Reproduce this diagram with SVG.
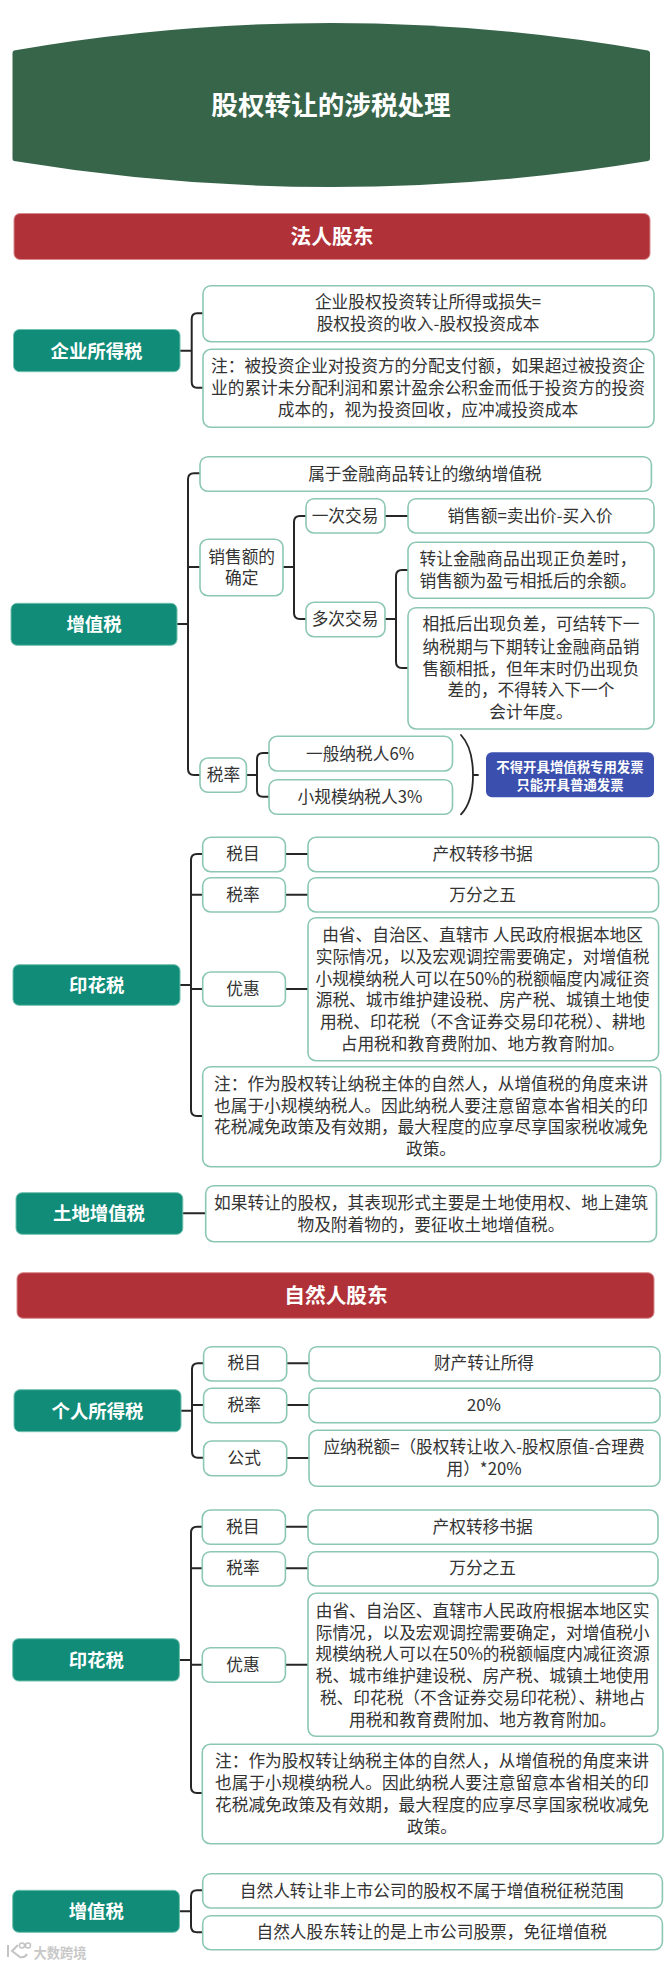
<svg xmlns="http://www.w3.org/2000/svg" width="665" height="1965" viewBox="0 0 665 1965">
<style>
text{font-family:"Noto Sans CJK SC","Noto Sans",sans-serif;text-anchor:middle}
.t{font-size:16.7px;fill:#333}
.g{fill:#108c78;stroke:#6fc0ad;stroke-width:1}
.gt{font-size:18.4px;font-weight:700;fill:#fff}
.r{fill:#b03238;stroke:#d98a8c;stroke-width:1}
.rt{font-size:20.7px;font-weight:700;fill:#fff}
.b{fill:#fff;stroke:#8cc7b2;stroke-width:1.6}
.c{fill:none;stroke:#262626;stroke-width:2;stroke-linecap:round}
.wm{fill:none;stroke:#c4c4c4;stroke-width:2}
</style>
<rect width="665" height="1965" fill="#fff"/>

<g id="title">
<path d="M14 50.5Q172 23 331 23T648 50.5Q650 51 650 53V158.500Q650 160.500 648 161Q490 187 331 187T14 161Q12.500 160.500 12.500 158.500V53Q12.500 51 14 50.500Z" fill="#37654a"/>
<text x="331" y="114.500" style="font-size:26.600px;font-weight:700;fill:#fff">股权转让的涉税处理</text>
</g>

<g id="connectors">
<path class="c" d="M180 350.700H191.700M203 313.300H197Q191.700 313.300 191.700 319V382Q191.700 387.700 197 387.700H203"/>
<path class="c" d="M177 624H188M200 473.300H194Q188 473.300 188 479.300V769Q188 775 194 775H200M188 567H200"/>
<path class="c" d="M283 567H294M306 516H300Q294 516 294 522V613Q294 619 300 619H306M385 516H408M385 619H396M408 570H402Q396 570 396 576V662Q396 668 402 668H408"/>
<path class="c" d="M246.400 775H257M269 753H263Q257 753 257 759V791Q257 796.700 263 796.700H269"/>
<path class="c" style="stroke-width:1.800" d="M461 735Q473 748 473 775T461 814.300M473 775H478"/>
<path class="c" d="M180 985H191M202.700 854H197Q191 854 191 860V1110Q191 1116 197 1116H202.700M191 894.700Q191 894.700 196 894.700H202.700M191 989H202.700M285.400 854H308M285.400 894.700H308M285.400 989H308"/>
<path class="c" d="M182.800 1213.300H205.700"/>
<path class="c" d="M181 1410.700H192M203.600 1363.300H198Q192 1363.300 192 1369V1452Q192 1457.700 198 1457.700H203.600M192 1405H203.600M286.700 1363.300H309M286.700 1405H309M286.700 1458H309"/>
<path class="c" d="M179.400 1660H191M202.300 1526.700H197Q191 1526.700 191 1532.700V1787Q191 1793 197 1793H202.300M191 1568.300H202.300M191 1664.700H202.300M285.400 1526.700H308M285.400 1568.300H308M285.400 1664.700H308"/>
<path class="c" d="M179.400 1911.300H191M202.700 1890.300H197Q191 1890.300 191 1896.300V1926.300Q191 1932.300 197 1932.300H202.700"/>
</g>

<g id="sec-legal"><rect class="r" x="14" y="213.500" width="636" height="46" rx="6"/><text class="rt" x="332" y="244.300">法人股东</text></g>

<g id="cit"><rect class="g" x="13.500" y="329.500" width="166.500" height="42.200" rx="6"/><text class="gt" x="96.500" y="357.500">企业所得税</text></g>
<g id="cit-formula"><rect class="b" x="203" y="285.700" width="451" height="56" rx="8"/><text class="t" x="428" y="308.300">企业股权投资转让所得或损失=</text><text class="t" x="428" y="330.300">股权投资的收入-股权投资成本</text></g>
<g id="cit-note"><rect class="b" x="203" y="349.300" width="451" height="78" rx="8"/><text class="t" x="428" y="372">注&#65306;被投资企业对投资方的分配支付额&#65292;如果超过被投资企</text><text class="t" x="428" y="393.700">业的累计未分配利润和累计盈余公积金而低于投资方的投资</text><text class="t" x="428" y="415.700">成本的&#65292;视为投资回收&#65292;应冲减投资成本</text></g>

<g id="vat"><rect class="g" x="11" y="603.300" width="166" height="42" rx="6"/><text class="gt" x="94" y="631">增值税</text></g>
<g id="vat-type"><rect class="b" x="200" y="456.700" width="451.400" height="34.600" rx="8"/><text class="t" x="425" y="480">属于金融商品转让的缴纳增值税</text></g>
<g id="vat-sales"><rect class="b" x="200" y="539.300" width="83" height="56.400" rx="8"/><text class="t" x="241.700" y="562.700">销售额的</text><text class="t" x="241.700" y="584.300">确定</text></g>
<g id="vat-once"><rect class="b" x="306" y="498.700" width="79" height="34.300" rx="8"/><text class="t" x="345" y="522">一次交易</text></g>
<g id="vat-once-val"><rect class="b" x="408" y="498.700" width="246" height="34.300" rx="8"/><text class="t" x="530" y="522">销售额=卖出价-买入价</text></g>
<g id="vat-multi"><rect class="b" x="306" y="602.300" width="79" height="34.400" rx="8"/><text class="t" x="345" y="625.300">多次交易</text></g>
<g id="vat-multi-1"><rect class="b" x="408" y="542.300" width="246" height="56" rx="8"/><text class="t" x="528" y="565.300">转让金融商品出现正负差时&#65292;</text><text class="t" x="528" y="587.300">销售额为盈亏相抵后的余额。</text></g>
<g id="vat-multi-2"><rect class="b" x="408" y="607.700" width="246" height="121.300" rx="8"/><text class="t" x="531" y="630.300">相抵后出现负差&#65292;可结转下一</text><text class="t" x="531" y="652.700">纳税期与下期转让金融商品销</text><text class="t" x="531" y="674.700">售额相抵&#65292;但年末时仍出现负</text><text class="t" x="531" y="696">差的&#65292;不得转入下一个</text><text class="t" x="531" y="718">会计年度。</text></g>
<g id="vat-rate"><rect class="b" x="200" y="758" width="46.400" height="34.300" rx="8"/><text class="t" x="223.500" y="781">税率</text></g>
<g id="vat-rate-1"><rect class="b" x="269" y="736.300" width="183.500" height="34.700" rx="8"/><text class="t" x="360" y="759.700">一般纳税人6%</text></g>
<g id="vat-rate-2"><rect class="b" x="269" y="779.700" width="183.500" height="34.600" rx="8"/><text class="t" x="360" y="803.300">小规模纳税人3%</text></g>
<g id="vat-invoice"><rect x="486" y="752.300" width="168" height="45" rx="6" fill="#3b4fae"/><text x="570" y="771.800" style="font-size:13.400px;font-weight:700;fill:#fff">不得开具增值税专用发票</text><text x="570" y="789.500" style="font-size:13.400px;font-weight:700;fill:#fff">只能开具普通发票</text></g>

<g id="stamp"><rect class="g" x="13" y="964.700" width="167" height="40.600" rx="6"/><text class="gt" x="96.700" y="991.500">印花税</text></g>
<g id="stamp-item"><rect class="b" x="202.700" y="837.300" width="82.700" height="34.400" rx="8"/><text class="t" x="243" y="860.300">税目</text></g>
<g id="stamp-item-val"><rect class="b" x="308" y="837.300" width="350.600" height="34.400" rx="8"/><text class="t" x="482.600" y="860.300">产权转移书据</text></g>
<g id="stamp-rate"><rect class="b" x="202.700" y="877.700" width="82.700" height="34.300" rx="8"/><text class="t" x="243" y="900.700">税率</text></g>
<g id="stamp-rate-val"><rect class="b" x="308" y="877.700" width="350.600" height="34.300" rx="8"/><text class="t" x="482.600" y="900.700">万分之五</text></g>
<g id="stamp-pref"><rect class="b" x="202.700" y="972" width="82.700" height="34.300" rx="8"/><text class="t" x="243" y="995">优惠</text></g>
<g id="stamp-pref-val"><rect class="b" x="308" y="917.700" width="350.600" height="143" rx="8"/><text class="t" x="482.600" y="941">由省、自治区、直辖市 人民政府根据本地区</text><text class="t" x="482.600" y="962.700">实际情况&#65292;以及宏观调控需要确定&#65292;对增值税</text><text class="t" x="482.600" y="984.700">小规模纳税人可以在50%的税额幅度内减征资</text><text class="t" x="482.600" y="1006.300">源税、城市维护建设税、房产税、城镇土地使</text><text class="t" x="482.600" y="1028.300">用税、印花税&#65288;不含证券交易印花税&#65289;、耕地</text><text class="t" x="482.600" y="1050.300">占用税和教育费附加、地方教育附加。</text></g>
<g id="stamp-note"><rect class="b" x="202.700" y="1066.700" width="458" height="100" rx="8"/><text class="t" x="431" y="1090">注&#65306;作为股权转让纳税主体的自然人&#65292;从增值税的角度来讲</text><text class="t" x="431" y="1112">也属于小规模纳税人。因此纳税人要注意留意本省相关的印</text><text class="t" x="431" y="1133.300">花税减免政策及有效期&#65292;最大程度的应享尽享国家税收减免</text><text class="t" x="431" y="1155.300">政策。</text></g>

<g id="lvat"><rect class="g" x="16" y="1192.700" width="166.800" height="41.600" rx="6"/><text class="gt" x="99" y="1220">土地增值税</text></g>
<g id="lvat-val"><rect class="b" x="205.700" y="1185.700" width="450.800" height="56" rx="8"/><text class="t" x="431" y="1209">如果转让的股权&#65292;其表现形式主要是土地使用权、地上建筑</text><text class="t" x="431" y="1231">物及附着物的&#65292;要征收土地增值税。</text></g>

<g id="sec-natural"><rect class="r" x="17" y="1272.700" width="637" height="45.600" rx="6"/><text class="rt" x="336" y="1302.500">自然人股东</text></g>

<g id="pit"><rect class="g" x="14" y="1389.700" width="167" height="42" rx="6"/><text class="gt" x="97.500" y="1417.500">个人所得税</text></g>
<g id="pit-item"><rect class="b" x="203.600" y="1346.700" width="83.100" height="34.300" rx="8"/><text class="t" x="244.300" y="1369.300">税目</text></g>
<g id="pit-item-val"><rect class="b" x="309" y="1346.700" width="351" height="34.300" rx="8"/><text class="t" x="484" y="1369.300">财产转让所得</text></g>
<g id="pit-rate"><rect class="b" x="203.600" y="1388.300" width="83.100" height="34.400" rx="8"/><text class="t" x="244.300" y="1411">税率</text></g>
<g id="pit-rate-val"><rect class="b" x="309" y="1388.300" width="351" height="34.400" rx="8"/><text class="t" x="484" y="1411">20%</text></g>
<g id="pit-formula"><rect class="b" x="203.600" y="1441" width="83.100" height="34.700" rx="8"/><text class="t" x="244.300" y="1464.300">公式</text></g>
<g id="pit-formula-val"><rect class="b" x="309" y="1430.300" width="351" height="56" rx="8"/><text class="t" x="484" y="1453">应纳税额=&#65288;股权转让收入-股权原值-合理费</text><text class="t" x="484" y="1475">用&#65289;*20%</text></g>

<g id="stamp2"><rect class="g" x="12.700" y="1638.700" width="166.700" height="42.300" rx="6"/><text class="gt" x="96.300" y="1666.500">印花税</text></g>
<g id="stamp2-item"><rect class="b" x="202.300" y="1510" width="83.100" height="34.300" rx="8"/><text class="t" x="243" y="1532.700">税目</text></g>
<g id="stamp2-item-val"><rect class="b" x="308" y="1510" width="350" height="34.300" rx="8"/><text class="t" x="482.600" y="1532.700">产权转移书据</text></g>
<g id="stamp2-rate"><rect class="b" x="202.300" y="1551.700" width="83.100" height="34.300" rx="8"/><text class="t" x="243" y="1574.300">税率</text></g>
<g id="stamp2-rate-val"><rect class="b" x="308" y="1551.700" width="350" height="34.300" rx="8"/><text class="t" x="482.600" y="1574.300">万分之五</text></g>
<g id="stamp2-pref"><rect class="b" x="202.300" y="1647.700" width="83.100" height="34.600" rx="8"/><text class="t" x="243" y="1670.700">优惠</text></g>
<g id="stamp2-pref-val"><rect class="b" x="308" y="1593.300" width="350" height="143" rx="8"/><text class="t" x="482.600" y="1617">由省、自治区、直辖市人民政府根据本地区实</text><text class="t" x="482.600" y="1638.700">际情况&#65292;以及宏观调控需要确定&#65292;对增值税小</text><text class="t" x="482.600" y="1660.300">规模纳税人可以在50%的税额幅度内减征资源</text><text class="t" x="482.600" y="1682.300">税、城市维护建设税、房产税、城镇土地使用</text><text class="t" x="482.600" y="1704">税、印花税&#65288;不含证券交易印花税&#65289;、耕地占</text><text class="t" x="482.600" y="1725.700">用税和教育费附加、地方教育附加。</text></g>
<g id="stamp2-note"><rect class="b" x="202.300" y="1744.300" width="460.700" height="99.400" rx="8"/><text class="t" x="432" y="1767.300">注&#65306;作为股权转让纳税主体的自然人&#65292;从增值税的角度来讲</text><text class="t" x="432" y="1789">也属于小规模纳税人。因此纳税人要注意留意本省相关的印</text><text class="t" x="432" y="1810.700">花税减免政策及有效期&#65292;最大程度的应享尽享国家税收减免</text><text class="t" x="432" y="1832.700">政策。</text></g>

<g id="vat2"><rect class="g" x="12.700" y="1890.300" width="166.700" height="42" rx="6"/><text class="gt" x="96.300" y="1918">增值税</text></g>
<g id="vat2-1"><rect class="b" x="202.700" y="1873.700" width="459.700" height="34.300" rx="8"/><text class="t" x="431.700" y="1896.700">自然人转让非上市公司的股权不属于增值税征税范围</text></g>
<g id="vat2-2"><rect class="b" x="202.700" y="1915.700" width="459.700" height="34" rx="8"/><text class="t" x="431.700" y="1938.300">自然人股东转让的是上市公司股票&#65292;免征增值税</text></g>

<g id="watermark"><path class="wm" d="M8 1945V1957M18 1945L12 1951L20 1957Q25 1958 27 1954"/><circle class="wm" style="stroke-width:1.500" cx="22" cy="1945.500" r="2.500"/><circle class="wm" style="stroke-width:1.500" cx="28" cy="1945.500" r="2.500"/><text x="60" y="1957.500" style="font-size:13.300px;font-weight:700;fill:#c8c8c8">大数跨境</text></g>
</svg>
